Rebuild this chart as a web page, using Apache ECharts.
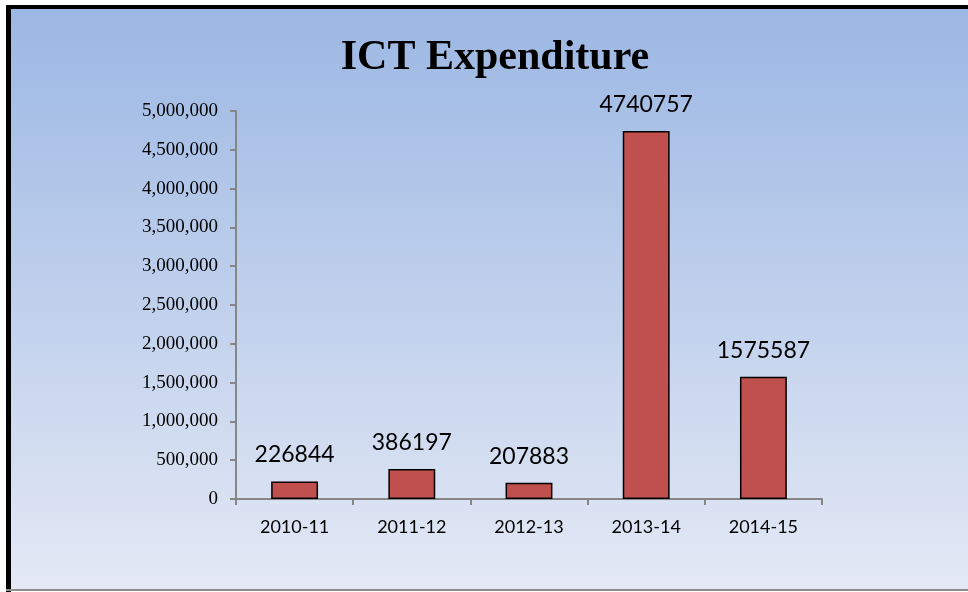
<!DOCTYPE html>
<html>
<head>
<meta charset="utf-8">
<script src="https://cdn.jsdelivr.net/npm/echarts@6/dist/echarts.min.js"></script>
<style>
  html, body { margin: 0; padding: 0; background: #fff; }
  #charts { width: 968px; height: 592px; }
</style>
</head>
<body>
<div id="charts"></div>
<script>
// data
var years = ['2010-11', '2011-12', '2012-13', '2013-14', '2014-15'];
var spend = [226844, 386197, 207883, 4740757, 1575587];

var myChart = echarts.init(document.getElementById('charts'));

var option = {
    backgroundColor: '#ffffff',
    animation: false,
    title: {
        text: 'ICT Expenditure',
        left: 490,
        top: 53,
        textAlign: 'center',
        textVerticalAlign: 'middle',
        textStyle: {
            fontFamily: '"Liberation Serif", "Times New Roman", serif',
            fontWeight: 'bold',
            fontSize: 42,
            color: '#000'
        }
    },
    graphic: [
        {
            type: 'rect',
            z: -10,
            shape: { x: 6, y: 5, width: 970, height: 586 },
            style: {
                fill: new echarts.graphic.LinearGradient(0, 0, 0, 1, [
                    { offset: 0, color: '#9bb7e3' },
                    { offset: 1, color: '#e4e9f5' }
                ])
            }
        },
        // frame edges (left + top black, bottom grey)
        { type: 'rect', z: -9, shape: { x: 6, y: 5, width: 5, height: 587 }, style: { fill: '#000' } },
        { type: 'rect', z: -9, shape: { x: 6, y: 5, width: 970, height: 4 }, style: { fill: '#000' } },
        { type: 'rect', z: -9, shape: { x: 6, y: 589, width: 970, height: 2 }, style: { fill: '#8e8e8e' } }
    ],
    grid: {
        left: 236,
        right: 146,
        top: 111,
        bottom: 93
    },
    xAxis: {
        type: 'category',
        data: years,
        axisLine: { lineStyle: { color: '#868686', width: 2 } },
        axisTick: { show: true, length: 6, lineStyle: { color: '#868686', width: 2 } },
        axisLabel: {
            margin: 19,
            fontFamily: 'Lato, "Open Sans", sans-serif',
            fontSize: 18,
            color: '#000'
        }
    },
    yAxis: {
        type: 'value',
        min: 0,
        max: 5000000,
        interval: 500000,
        splitLine: { show: false },
        axisLine: { show: true, lineStyle: { color: '#868686', width: 2 } },
        axisTick: { show: true, length: 6, lineStyle: { color: '#868686', width: 2 } },
        axisLabel: {
            margin: 18,
            fontFamily: '"Liberation Serif", "Times New Roman", serif',
            fontSize: 19,
            color: '#000',
            formatter: function (v) {
                return v.toString().replace(/\B(?=(\d{3})+(?!\d))/g, ',');
            }
        }
    },
    series: [
        {
            name: 'ICT Expenditure',
            type: 'bar',
            data: spend,
            barWidth: '40%',
            itemStyle: {
                color: '#c0504d',
                borderColor: '#000',
                borderWidth: 1.5
            },
            label: {
                show: true,
                position: 'top',
                distance: 15,
                fontFamily: 'Lato, "Open Sans", sans-serif',
                fontSize: 23,
                color: '#000'
            }
        }
    ]
};

myChart.setOption(option);
</script>
</body>
</html>
